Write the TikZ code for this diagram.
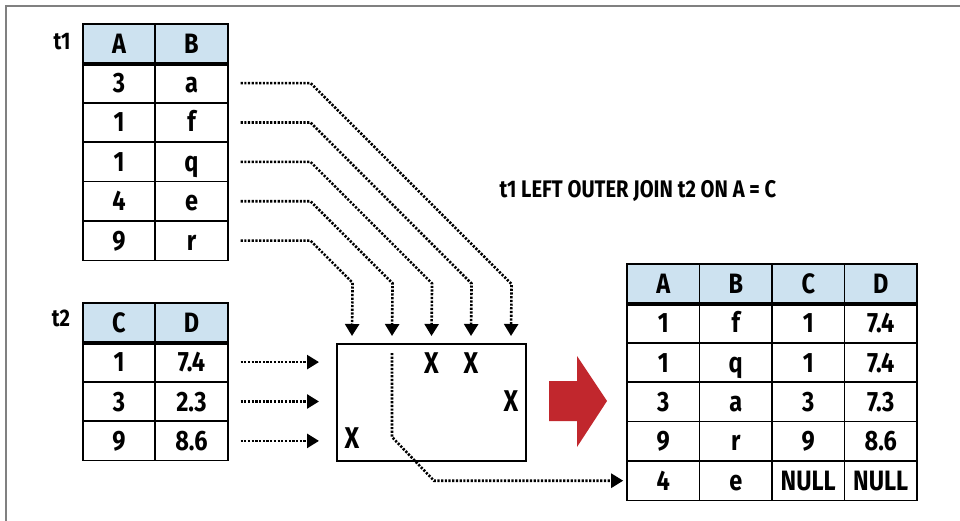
\documentclass[tikz,border=0pt]{standalone}
\usepackage{fontspec}
\setmainfont{Fira Sans}[FakeStretch=0.84]
\usetikzlibrary{arrows.meta,calc}
\definecolor{hdrblue}{RGB}{205,226,240}
\definecolor{joinred}{RGB}{193,39,45}
\tikzset{
  cell/.style={draw, line width=1.6pt, minimum width=72.5pt, minimum height=39.4pt,
    inner sep=0pt, text height=19pt, text depth=0pt, font=\bfseries\fontsize{28}{30}\selectfont},
  head/.style={cell, fill=hdrblue},
  hit/.style={font=\bfseries\fontsize{30}{32}\selectfont},
  tname/.style={font=\bfseries\fontsize{24}{26}\selectfont},
  flow/.style={line width=2.6pt, dash pattern=on 2.2pt off 1.5pt, -{Triangle[width=14pt,length=12pt]}}
}
\begin{document}
\begin{tikzpicture}[x=1pt,y=-1pt]
\useasboundingbox (0,0) rectangle (960,521);
\draw[gray, line width=1.2pt] (6,521) -- (6,6) -- (960,6);

% table t1
\node[tname] (t1name) at (62,42) {t1};
\node[head] (t1A) at (119,43.7) {A};  \node[head] (t1B) at (191.5,43.7) {B};
\node[cell] (t1A1) at (119,83.1) {3};  \node[cell] (t1B1) at (191.5,83.1) {a};
\node[cell] (t1A2) at (119,122.5) {1}; \node[cell] (t1B2) at (191.5,122.5) {f};
\node[cell] (t1A3) at (119,161.9) {1}; \node[cell] (t1B3) at (191.5,161.9) {q};
\node[cell] (t1A4) at (119,201.3) {4}; \node[cell] (t1B4) at (191.5,201.3) {e};
\node[cell] (t1A5) at (119,240.7) {9}; \node[cell] (t1B5) at (191.5,240.7) {r};
\draw[line width=4pt] (t1A.south west) -- (t1B.south east);

% table t2
\node[tname] (t2name) at (61,318) {t2};
\node[head] (t2C) at (119,322.7) {C};  \node[head] (t2D) at (191.5,322.7) {D};
\node[cell] (t2C1) at (119,362.1) {1}; \node[cell] (t2D1) at (191.5,362.1) {7.4};
\node[cell] (t2C2) at (119,401.5) {3}; \node[cell] (t2D2) at (191.5,401.5) {2.3};
\node[cell] (t2C3) at (119,440.9) {9}; \node[cell] (t2D3) at (191.5,440.9) {8.6};
\draw[line width=4pt] (t2C.south west) -- (t2D.south east);

% join box
\node[draw, line width=2pt, minimum width=189pt, minimum height=117pt] (join) at (431.5,402.5) {};
\coordinate (inr) at (352,336);
\coordinate (ine) at (392,336);
\coordinate (inq) at (431.5,336);
\coordinate (inf) at (471,336);
\coordinate (ina) at (511,336);
\coordinate (eout) at (392,353);
\node[hit] (hq) at (431.5,363) {X};
\node[hit] (hf) at (471,363) {X};
\node[hit] (ha) at (511,401.5) {X};
\node[hit] (hr) at (352,438) {X};

\draw[flow] ([xshift=12pt]t1B1.east) -- ++(70,0) -- ++(201,201) -- (ina);
\draw[flow] ([xshift=12pt]t1B2.east) -- ++(70,0) -- ++(161,161) -- (inf);
\draw[flow] ([xshift=12pt]t1B3.east) -- ++(70,0) -- ++(121.5,121.5) -- (inq);
\draw[flow] ([xshift=12pt]t1B4.east) -- ++(70,0) -- ++(82,82) -- (ine);
\draw[flow] ([xshift=12pt]t1B5.east) -- ++(70,0) -- ++(42,42) -- (inr);

\draw[flow] ([xshift=12pt]t2D1.east) -- ($(join.west |- t2D1)+(-17,0)$);
\draw[flow] ([xshift=12pt]t2D2.east) -- ($(join.west |- t2D2)+(-17,0)$);
\draw[flow] ([xshift=12pt]t2D3.east) -- ($(join.west |- t2D3)+(-17,0)$);

% red arrow
\fill[joinred] (549,381) -- (577,381) -- (577,356) -- (607,401) -- (577,447) -- (577,421) -- (549,421) -- cycle;

\node[tname] (title) at (638,191) {t1 LEFT OUTER JOIN t2 ON A = C};

% result table
\node[head] (oA) at (663.25,283.7) {A}; \node[head] (oB) at (735.75,283.7) {B};
\node[head] (oC) at (808.25,283.7) {C}; \node[head] (oD) at (880.75,283.7) {D};
\node[cell] (oA1) at (663.25,323.1) {1}; \node[cell] (oB1) at (735.75,323.1) {f};
\node[cell] (oC1) at (808.25,323.1) {1}; \node[cell] (oD1) at (880.75,323.1) {7.4};
\node[cell] (oA2) at (663.25,362.5) {1}; \node[cell] (oB2) at (735.75,362.5) {q};
\node[cell] (oC2) at (808.25,362.5) {1}; \node[cell] (oD2) at (880.75,362.5) {7.4};
\node[cell] (oA3) at (663.25,401.9) {3}; \node[cell] (oB3) at (735.75,401.9) {a};
\node[cell] (oC3) at (808.25,401.9) {3}; \node[cell] (oD3) at (880.75,401.9) {7.3};
\node[cell] (oA4) at (663.25,441.3) {9}; \node[cell] (oB4) at (735.75,441.3) {r};
\node[cell] (oC4) at (808.25,441.3) {9}; \node[cell] (oD4) at (880.75,441.3) {8.6};
\node[cell] (oA5) at (663.25,480.7) {4}; \node[cell] (oB5) at (735.75,480.7) {e};
\node[cell] (oC5) at (808.25,480.7) {NULL}; \node[cell] (oD5) at (880.75,480.7) {NULL};
\draw[line width=4pt] (oA.south west) -- (oD.south east);

\draw[flow] (eout) -- ++(0,84) -- ($(eout |- oA5)+(42,0)$) -- ([xshift=-3pt]oA5.west);
\end{tikzpicture}
\end{document}
